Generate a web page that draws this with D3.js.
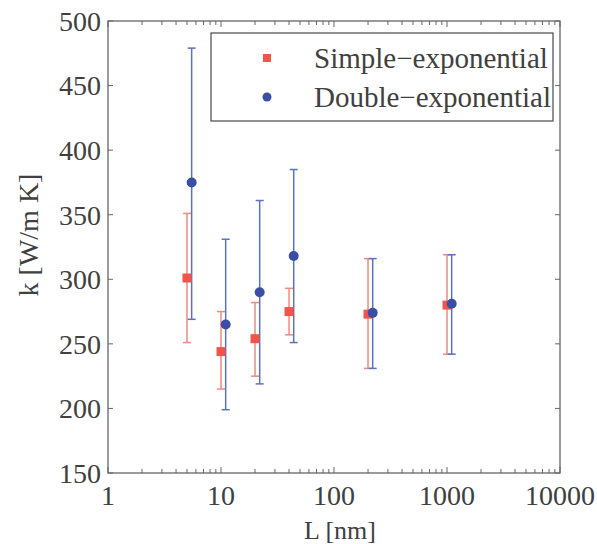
<!DOCTYPE html>
<html>
<head>
<meta charset="utf-8">
<script src="https://cdn.jsdelivr.net/npm/d3@7"></script>
<style>
  body { margin: 0; background: #fff; }
  text { font-family: "Liberation Serif", "Times New Roman", serif; fill: #404040; }
</style>
</head>
<body>
<div id="chart"></div>
<script>
// data
var simpleL = [5, 10, 20, 40, 200, 1000];
var simpleK = [301, 244, 254, 275, 273, 280];
var simpleLo = [251, 215, 225, 257, 231, 242];
var simpleHi = [351, 275, 282, 293, 316, 319];

var doubleL = [5.5, 11, 22, 44, 220, 1100];
var doubleK = [375, 265, 290, 318, 274, 281];
var doubleLo = [269, 199, 219, 251, 231, 242];
var doubleHi = [479, 331, 361, 385, 316, 319];

var xTicks = [1, 10, 100, 1000, 10000];
var yTicks = [150, 200, 250, 300, 350, 400, 450, 500];

var W = 597, H = 544;
var m = {left: 108, top: 21, right: 37, bottom: 71};
var iw = W - m.left - m.right, ih = H - m.top - m.bottom;

var svg = d3.select("#chart").append("svg")
    .attr("width", W)
    .attr("height", H);

var x = d3.scaleLog().domain([1, 10000]).range([0, iw]);
var y = d3.scaleLinear().domain([150, 500]).range([ih, 0]);

var g = svg.append("g").attr("transform", "translate(" + m.left + "," + m.top + ")");

// minor log ticks
var minor = [];
for (var e = 0; e < 4; e++) {
    for (var k = 1; k < 10; k++) minor.push(k * Math.pow(10, e));
}
minor.push(10000);

var axisColor = "#666";

function tickLines(sel, vals, len, orient) {
    sel.selectAll("line." + orient).data(vals).enter().append("line")
        .attr("class", orient)
        .attr("stroke", axisColor)
        .attr("stroke-width", 1)
        .each(function(d) {
            var s = d3.select(this);
            if (orient == "bottom") s.attr("x1", x(d)).attr("x2", x(d)).attr("y1", ih).attr("y2", ih - len(d));
            if (orient == "top") s.attr("x1", x(d)).attr("x2", x(d)).attr("y1", 0).attr("y2", len(d));
            if (orient == "left") s.attr("y1", y(d)).attr("y2", y(d)).attr("x1", 0).attr("x2", len(d));
            if (orient == "right") s.attr("y1", y(d)).attr("y2", y(d)).attr("x1", iw).attr("x2", iw - len(d));
        });
}
var xLen = function(d) { return xTicks.indexOf(d) >= 0 ? 6 : 4; };
tickLines(g, minor, xLen, "bottom");
tickLines(g, minor, xLen, "top");
tickLines(g, yTicks, function() { return 5; }, "left");
tickLines(g, yTicks, function() { return 5; }, "right");

g.append("rect")
    .attr("width", iw)
    .attr("height", ih)
    .attr("fill", "none")
    .attr("stroke", axisColor)
    .attr("stroke-width", 1.3);

// tick labels
g.selectAll("text.xt").data(xTicks).enter().append("text")
    .attr("class", "xt")
    .attr("x", function(d) { return x(d); })
    .attr("y", ih + 32)
    .attr("text-anchor", "middle")
    .style("font-size", "28px")
    .text(function(d) { return d; });

g.selectAll("text.yt").data(yTicks).enter().append("text")
    .attr("class", "yt")
    .attr("x", -7)
    .attr("y", function(d) { return y(d); })
    .attr("dy", "0.35em")
    .attr("text-anchor", "end")
    .style("font-size", "28px")
    .text(function(d) { return d; });

svg.append("text")
    .attr("x", m.left + iw / 2 + 6)
    .attr("y", H - 5)
    .attr("text-anchor", "middle")
    .style("font-size", "26px")
    .text("L [nm]");

svg.append("text")
    .attr("transform", "translate(38," + (m.top + ih / 2 - 12) + ") rotate(-90)")
    .attr("text-anchor", "middle")
    .style("font-size", "28px")
    .text("k [W/m K]");

// error bars + markers
var red = "#f4534a", redBar = "#f08a7e";
var blue = "#3a4ea6", blueBar = "#5a73bd";

function errorBars(L, lo, hi, col) {
    var eb = g.append("g");
    L.forEach(function(l, i) {
        var cx = x(l);
        eb.append("line").attr("x1", cx).attr("x2", cx).attr("y1", y(lo[i])).attr("y2", y(hi[i]))
            .attr("stroke", col).attr("stroke-width", 1.5);
        [lo[i], hi[i]].forEach(function(v) {
            eb.append("line").attr("x1", cx - 4).attr("x2", cx + 4).attr("y1", y(v)).attr("y2", y(v))
                .attr("stroke", col).attr("stroke-width", 1.5);
        });
    });
}
errorBars(simpleL, simpleLo, simpleHi, redBar);
errorBars(doubleL, doubleLo, doubleHi, blueBar);

g.selectAll("rect.sq").data(simpleL).enter().append("rect")
    .attr("class", "sq")
    .attr("x", function(d) { return x(d) - 4.5; })
    .attr("y", function(d, i) { return y(simpleK[i]) - 4.5; })
    .attr("width", 9)
    .attr("height", 9)
    .attr("fill", red);

g.selectAll("circle.dot").data(doubleL).enter().append("circle")
    .attr("class", "dot")
    .attr("cx", function(d) { return x(d); })
    .attr("cy", function(d, i) { return y(doubleK[i]); })
    .attr("r", 5)
    .attr("fill", blue);

// legend
var lg = svg.append("g");
lg.append("rect")
    .attr("x", 211).attr("y", 33)
    .attr("width", 342).attr("height", 88)
    .attr("fill", "#fff")
    .attr("stroke", "#555")
    .attr("stroke-width", 1.3);
lg.append("rect").attr("x", 263).attr("y", 54).attr("width", 8).attr("height", 8).attr("fill", red);
lg.append("circle").attr("cx", 267).attr("cy", 97).attr("r", 4.5).attr("fill", blue);
lg.append("text").attr("x", 314).attr("y", 68).style("font-size", "29px").text("Simple\u2212exponential");
lg.append("text").attr("x", 314).attr("y", 107).style("font-size", "29px").text("Double\u2212exponential");
</script>
</body>
</html>
